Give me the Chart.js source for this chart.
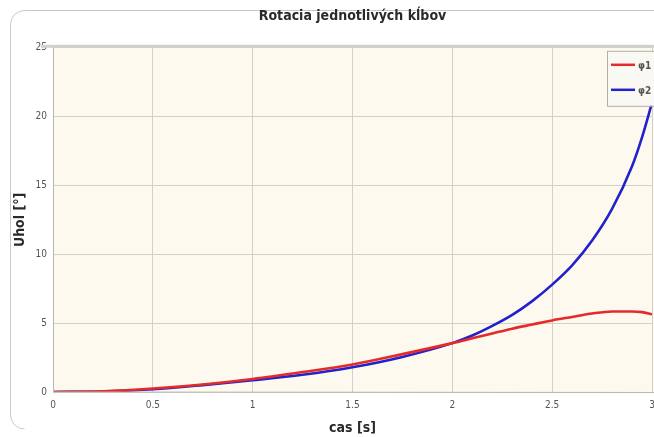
<!DOCTYPE html>
<html>
<head>
<meta charset="utf-8">
<script src="https://cdn.jsdelivr.net/npm/chart.js@4/dist/chart.umd.min.js"></script>
<style>
html,body{margin:0;padding:0;background:#fff;overflow:hidden;width:654px;height:437px;}
#wrap{position:absolute;left:0;top:0;width:664px;height:437px;}
</style>
</head>
<body>
<div id="wrap"><canvas id="c" width="664" height="437"></canvas></div>
<script>
// Data
const time = [0, 0.25, 0.5, 0.75, 1, 1.25, 1.5, 1.75, 2, 2.1, 2.2, 2.3, 2.4, 2.5, 2.6, 2.7, 2.8, 2.9, 2.95, 3];
const phi1 = [0, 0.05, 0.25, 0.55, 0.95, 1.45, 2.0, 2.75, 3.55, 3.9, 4.25, 4.6, 4.9, 5.2, 5.45, 5.7, 5.85, 5.85, 5.8, 5.65];
const phi2 = [0, 0.04, 0.2, 0.5, 0.85, 1.25, 1.8, 2.55, 3.55, 4.1, 4.8, 5.6, 6.6, 7.8, 9.2, 11.0, 13.3, 16.4, 18.5, 21];
const seriesNames = ['φ1', 'φ2'];
const xTicks = [0, 0.5, 1, 1.5, 2, 2.5, 3];
const yTicks = [0, 5, 10, 15, 20, 25];
const titleText = 'Rotacia jednotlivých kĺbov';
const xTitle = 'cas [s]';
const yTitle = 'Uhol [°]';

const FONT = "'Liberation Sans Narrow','DejaVu Sans Condensed','Liberation Sans',sans-serif";

const toPts = (ys) => time.map((t, i) => ({x: t, y: ys[i]}));

const framePlugin = {
  id: 'frame',
  beforeDraw(chart) {
    const ctx = chart.ctx;
    const a = chart.chartArea;
    ctx.save();
    ctx.strokeStyle = '#c8c8c8';
    ctx.lineWidth = 1;
    const x0 = 10.5, y0 = 10.5, x1 = 720, r = 14, yb = 437 - 8;
    ctx.beginPath();
    ctx.moveTo(x1, y0);
    ctx.lineTo(x0 + r, y0);
    ctx.arcTo(x0, y0, x0, y0 + r, r);
    ctx.lineTo(x0, yb - r);
    ctx.arcTo(x0, yb, x0 + r, yb, r);
    ctx.stroke();
    ctx.fillStyle = '#fdf9ee';
    ctx.fillRect(a.left, a.top, a.right - a.left + 20, a.bottom - a.top);
    ctx.restore();
  },
  afterDraw(chart) {
    const ctx = chart.ctx;
    const a = chart.chartArea;
    ctx.save();
    ctx.fillStyle = '#d0d0cc';
    ctx.fillRect(a.left - 12, a.top - 3, 700, 3);
    ctx.strokeStyle = '#b8b8b0';
    ctx.lineWidth = 1;
    ctx.beginPath();
    ctx.moveTo(a.left + 0.5, a.top);
    ctx.lineTo(a.left + 0.5, a.bottom);
    ctx.lineTo(a.right + 20, a.bottom + 0.5);
    ctx.stroke();
    const bx = a.right - 45, by = a.top + 3, bw = 60, bh = 55;
    ctx.fillStyle = '#faf8f2';
    ctx.fillRect(bx, by, bw, bh);
    ctx.strokeStyle = '#b0b0ac';
    ctx.lineWidth = 1;
    ctx.strokeRect(bx + 0.5, by + 0.5, bw, bh);
    chart.data.datasets.forEach((ds, i) => {
      const yy = by + 14 + i * 25;
      ctx.strokeStyle = ds.borderColor;
      ctx.lineWidth = 2.5;
      ctx.beginPath();
      ctx.moveTo(bx + 4, yy);
      ctx.lineTo(bx + 28, yy);
      ctx.stroke();
      ctx.fillStyle = '#555';
      ctx.font = "bold 10px " + FONT;
      ctx.textBaseline = 'middle';
      ctx.textAlign = 'left';
      ctx.fillText(ds.label, bx + 31, yy + 2);
    });
    ctx.restore();
  }
};

new Chart(document.getElementById('c'), {
  type: 'line',
  data: {
    datasets: [
      {label: seriesNames[0], data: toPts(phi1), borderColor: '#e32b2b', borderWidth: 2.6, pointRadius: 0, tension: 0.4, cubicInterpolationMode: 'monotone', fill: false},
      {label: seriesNames[1], data: toPts(phi2), borderColor: '#2222cc', borderWidth: 2.6, pointRadius: 0, tension: 0.4, cubicInterpolationMode: 'monotone', fill: false}
    ]
  },
  options: {
    responsive: false,
    animation: false,
    devicePixelRatio: 1,
    layout: {padding: {left: 0, right: 12, top: 0, bottom: 0}},
    plugins: {
      legend: {display: false},
      tooltip: {enabled: false},
      title: {
        display: true,
        text: titleText,
        fullSize: false,
        color: '#2a2a2a',
        font: {family: FONT, size: 14, weight: 'bold'},
        padding: {top: 8, bottom: 23}
      }
    },
    scales: {
      x: {
        type: 'linear',
        min: 0, max: 3,
        afterBuildTicks: (s) => { s.ticks = xTicks.map(v => ({value: v})); },
        afterFit: (s) => { s.height = 45; },
        grid: {color: '#d2d0c8', lineWidth: 1, drawTicks: false},
        border: {display: false},
        ticks: {color: '#555', font: {family: FONT, size: 10}, padding: 7, maxRotation: 0, callback: (v) => String(v)},
        title: {display: true, text: xTitle, color: '#2a2a2a', font: {family: FONT, size: 14, weight: 'bold'}, padding: {top: 2, bottom: 0}}
      },
      y: {
        min: 0, max: 25,
        afterBuildTicks: (s) => { s.ticks = yTicks.map(v => ({value: v})); },
        afterFit: (s) => { s.width = 53; },
        grid: {color: '#d2d0c8', lineWidth: 1, drawTicks: false},
        border: {display: false},
        ticks: {color: '#555', font: {family: FONT, size: 10}, padding: 6, callback: (v) => String(v)},
        title: {display: true, text: yTitle, color: '#2a2a2a', font: {family: FONT, size: 14, weight: 'bold'}, padding: {top: 12, bottom: 4}}
      }
    }
  },
  plugins: [framePlugin]
});
</script>
</body>
</html>
